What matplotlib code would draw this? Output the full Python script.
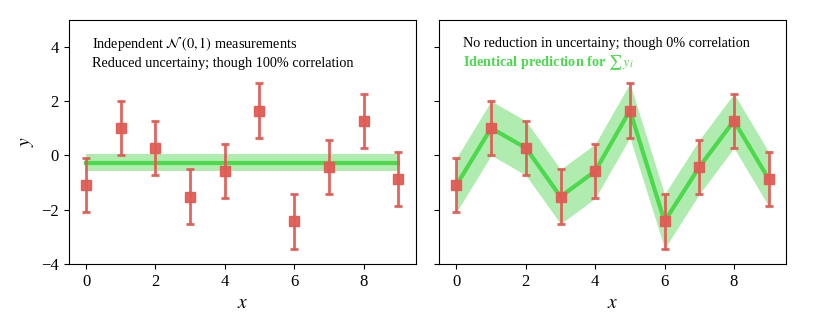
import numpy as np
import matplotlib
matplotlib.use('Agg')
import matplotlib.pyplot as plt

plt.rcParams['font.family'] = ['Liberation Serif', 'DejaVu Serif']
plt.rcParams['mathtext.fontset'] = 'stix'

# measured values, unit uncertainty on each
x = np.arange(10)
y = np.array([-1.09, 1.0, 0.27, -1.52, -0.58, 1.65, -2.43, -0.43, 1.27, -0.87])
yerr = np.ones(10)

red = '#e05c55'
green = '#4cd94c'
band = '#a8eaa8'

fig, (ax1, ax2) = plt.subplots(1, 2, sharey=True, figsize=(8.22, 3.29), dpi=100)
fig.subplots_adjust(left=0.0836, right=0.9562, top=0.9407, bottom=0.1976, wspace=0.068)

# left: fully correlated -> mean with reduced uncertainty
mean = y.mean()
sig = 1 / np.sqrt(len(y))
xx = np.array([x[0], x[-1]])
ax1.fill_between(xx, mean - sig, mean + sig, color=band, alpha=0.9, lw=0)
ax1.plot(xx, [mean, mean], color=green, lw=3)

# right: uncorrelated -> same prediction as data
ax2.fill_between(x, y - yerr, y + yerr, color=band, alpha=0.9, lw=0)
ax2.plot(x, y, color=green, lw=3)

for ax in (ax1, ax2):
    ax.errorbar(x, y, yerr=yerr, fmt='s', color=red, ms=7, lw=2,
                capsize=3, capthick=2, alpha=0.95)
    ax.set_xlim(-0.5, 9.5)
    ax.set_ylim(-4, 5)
    ax.set_xticks([0, 2, 4, 6, 8])
    ax.set_yticks([-4, -2, 0, 2, 4])
    ax.set_xlabel('$x$', fontsize=14)
    ax.tick_params(labelsize=12)

ax1.set_ylabel('$y$', fontsize=14)

fs = 10.3
ax1.text(0.067, 0.90, r'Independent $\mathcal{N}\,(0,1)$ measurements',
         transform=ax1.transAxes, fontsize=fs, va='center')
ax1.text(0.067, 0.822, 'Reduced uncertainy; though 100% correlation',
         transform=ax1.transAxes, fontsize=fs, va='center')
ax2.text(0.068, 0.90, 'No reduction in uncertainy; though 0% correlation',
         transform=ax2.transAxes, fontsize=fs, va='center')
ax2.text(0.068, 0.822, r'Identical prediction for $\sum\, y_i$',
         transform=ax2.transAxes, fontsize=fs, va='center', color=green,
         fontweight='bold')

fig.savefig('out.png')
